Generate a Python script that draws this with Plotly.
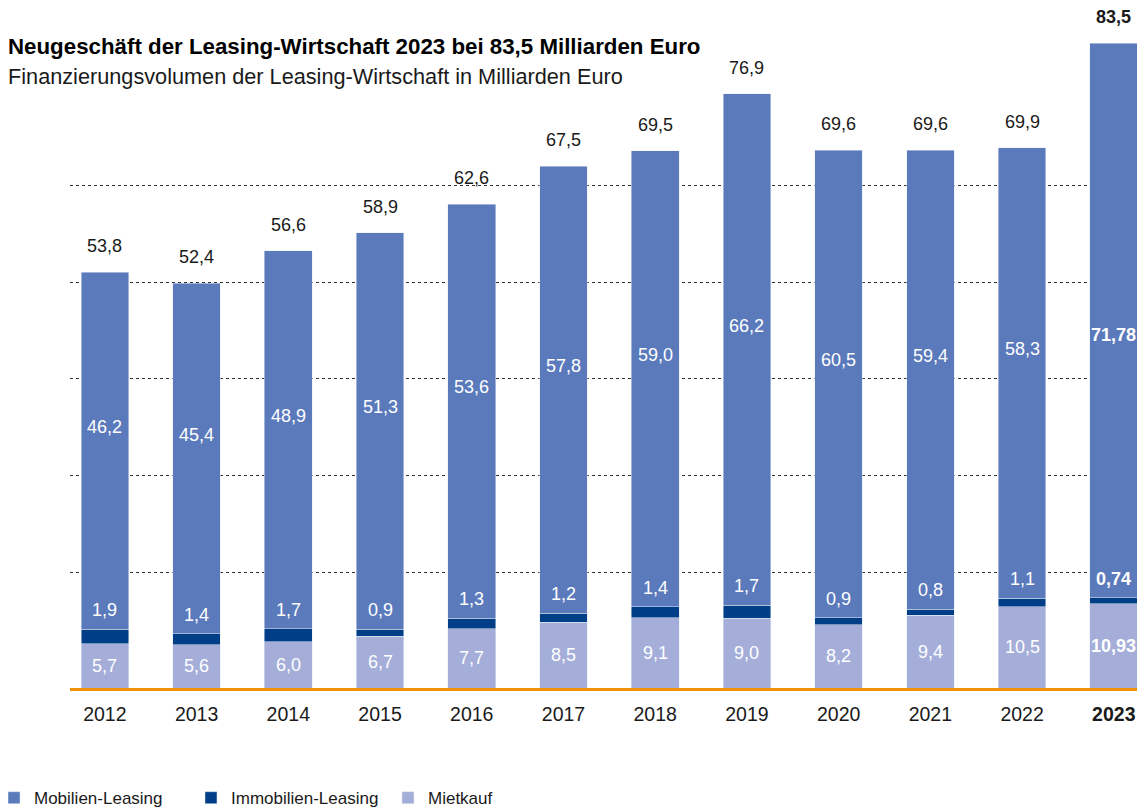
import plotly.graph_objects as go

# Data (Milliarden Euro)
years = ["2012", "2013", "2014", "2015", "2016", "2017",
         "2018", "2019", "2020", "2021", "2022", "2023"]
mietkauf = [5.7, 5.6, 6.0, 6.7, 7.7, 8.5, 9.1, 9.0, 8.2, 9.4, 10.5, 10.93]
immobilien = [1.9, 1.4, 1.7, 0.9, 1.3, 1.2, 1.4, 1.7, 0.9, 0.8, 1.1, 0.74]
mobilien = [46.2, 45.4, 48.9, 51.3, 53.6, 57.8, 59.0, 66.2, 60.5, 59.4, 58.3, 71.78]
totals = [53.8, 52.4, 56.6, 58.9, 62.6, 67.5, 69.5, 76.9, 69.6, 69.6, 69.9, 83.5]
grid_values = [15, 27.5, 40, 52.5, 65]

C_MOB = "#5B7ABC"
C_IMMO = "#003F87"
C_MIET = "#A4AED9"
FONT = "Liberation Sans, Arial, sans-serif"
TXT = "#1a1a1a"


def de(v, year):
    """German number format, two decimals for 2023 segments"""
    s = f"{v:.2f}" if year == "2023" else f"{v:.1f}"
    s = s.replace(".", ",")
    return f"<b>{s}</b>" if year == "2023" else s


fig = go.Figure()

fig.add_trace(go.Bar(x=years, y=mietkauf, name="Mietkauf",
                     marker_color=C_MIET, textposition="none"))
fig.add_trace(go.Bar(x=years, y=immobilien, name="Immobilien-Leasing",
                     marker_color=C_IMMO, textposition="none"))
fig.add_trace(go.Bar(x=years, y=mobilien, name="Mobilien-Leasing",
                     marker_color=C_MOB, textposition="none"))

white = dict(color="white", size=18, family=FONT)
for i, y in enumerate(years):
    base = mietkauf[i] + immobilien[i]
    # Mietkauf, centred in its segment
    fig.add_annotation(x=i, y=mietkauf[i] / 2, text=de(mietkauf[i], y),
                       showarrow=False, yanchor="middle", font=white)
    # Immobilien, just above the dark band
    fig.add_annotation(x=i, y=base, text=de(immobilien[i], y), showarrow=False,
                       yanchor="bottom", yshift=7, font=white)
    # Mobilien, a bit above the middle of its segment (lower for 2023)
    fig.add_annotation(x=i, y=base + mobilien[i] / 2, text=de(mobilien[i], y),
                       showarrow=False, yanchor="middle",
                       yshift=-15 if y == "2023" else 24, font=white)
    tot = f"{totals[i]:.1f}".replace(".", ",")
    if y == "2023":
        tot = f"<b>{tot}</b>"
    fig.add_annotation(x=i, y=totals[i], text=tot, showarrow=False,
                       yanchor="bottom", yshift=14,
                       font=dict(color=TXT, size=18, family=FONT))

# title and subtitle
fig.add_annotation(xref="paper", yref="paper", x=-0.0595, y=0.944,
                   xanchor="left", yanchor="middle", showarrow=False,
                   text="<b>Neugeschäft der Leasing-Wirtschaft 2023 bei 83,5 Milliarden Euro</b>",
                   font=dict(size=22.3, color="black", family=FONT))
fig.add_annotation(xref="paper", yref="paper", x=-0.0595, y=0.899,
                   xanchor="left", yanchor="middle", showarrow=False,
                   text="Finanzierungsvolumen der Leasing-Wirtschaft in Milliarden Euro",
                   font=dict(size=21.7, color=TXT, family=FONT))

# page body has an 8px margin, so the figure is a little smaller than the window
fig.update_layout(
    width=1137, height=803,
    margin=dict(l=62, r=0, t=0, b=123, autoexpand=False),
    barmode="stack", bargap=0.48,
    plot_bgcolor="white", paper_bgcolor="white",
    font=dict(family=FONT, color=TXT),
    showlegend=True,
    legend=dict(orientation="h", traceorder="reversed",
                x=-0.0707, y=-0.162, xanchor="left", yanchor="middle",
                font=dict(size=17, color=TXT, family=FONT),
                itemwidth=30, entrywidth=152, entrywidthmode="pixels"),
)
fig.update_xaxes(
    type="category",
    range=[-0.38, 11.34], showgrid=False,
    showline=True, linecolor="#F39200", linewidth=3,
    ticks="", ticklabelstandoff=7,
    tickvals=years,
    ticktext=[("<b>%s</b>" % y) if y == "2023" else y for y in years],
    tickfont=dict(size=19.5, color=TXT, family=FONT),
)
fig.update_yaxes(
    range=[0, 88.0], tickvals=grid_values, showticklabels=False,
    showgrid=True, gridcolor="#333333", gridwidth=1, griddash="dot",
    zeroline=False,
)

fig.write_html("out.html")
